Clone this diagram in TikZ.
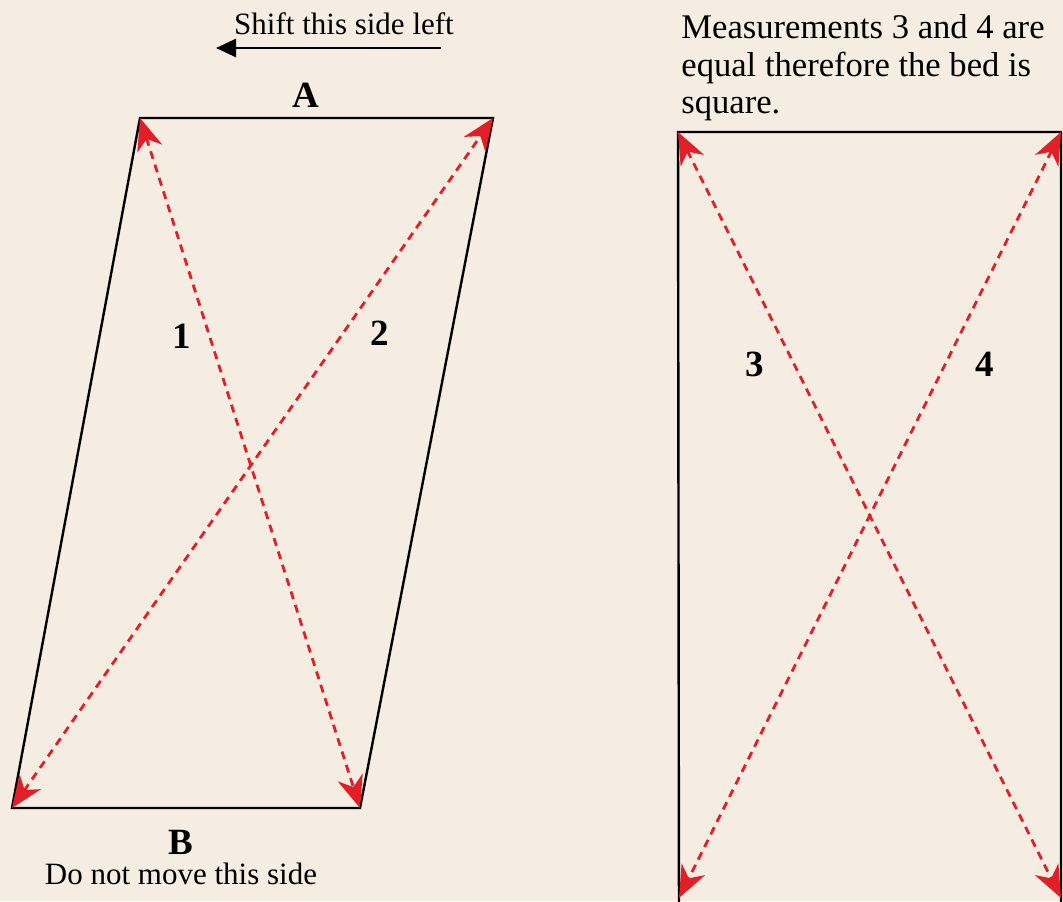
\documentclass[tikz,border=0pt]{standalone}
\usepackage{fontspec}
\setmainfont{Liberation Serif}
\usetikzlibrary{arrows.meta,positioning}
\definecolor{BedBg}{RGB}{245,237,225}
\definecolor{TapeRed}{RGB}{228,30,38}

\begin{document}
\begin{tikzpicture}[x=0.5pt,y=-0.5pt,node distance=2pt,
  frame/.style={draw=black,line width=1.2pt,line join=miter},
  tape/.style={draw=TapeRed,line width=1.4pt,dash pattern=on 4pt off 3pt,
    {Stealth[length=16pt,width=13pt,inset=5pt]}-{Stealth[length=16pt,width=13pt,inset=5pt]}},
  num/.style={inner sep=0pt,font=\fontsize{18.5}{21}\selectfont\bfseries},
  note/.style={inner sep=0pt,font=\fontsize{15.5}{19}\selectfont}]
  \fill[BedBg] (0,0) rectangle (1063,901);
  \useasboundingbox (0,0) rectangle (1063,901);
  \clip (0,0) rectangle (1063,901);
  % bed out of square
  \coordinate (a1) at (140,118);
  \coordinate (a2) at (493,118);
  \coordinate (b2) at (360,808);
  \coordinate (b1) at (12,808);
  \draw[frame] (a1) -- (a2) -- (b2) -- (b1) -- cycle;
  \draw[tape] (a1) -- (b2);
  \draw[tape] (b1) -- (a2);
  \node[num] (n1) at (182,336) {1};
  \node[num] (n2) at (380,333) {2};
  \node[num] (sideA) at (306,95) {A};
  \node[num] (sideB) at (181,842) {B};
  \node[note,below=4pt of sideB] (keep) {Do not move this side};
  \node[note] (shift) at (344,24) {Shift this side left};
  \coordinate (shiftfrom) at (441,48);
  \coordinate (shiftto) at (216,48);
  \draw[line width=1.3pt,-{Stealth[length=10pt,width=9pt,inset=0pt]}] (shiftfrom) -- (shiftto);
  % bed in square
  \coordinate (c1) at (678,132);
  \coordinate (c2) at (1061,132);
  \coordinate (d2) at (1061,898);
  \coordinate (d1) at (679,898);
  \draw[frame] (d1) ++(0,40) -- (c1) -- (c2) -- ++(0,820);
  \draw[tape] (c1) -- (d2);
  \draw[tape] (c2) -- (d1);
  \node[num] (n3) at (755,364) {3};
  \node[num] (n4) at (985,364) {4};
  \node[inner sep=0pt,anchor=north west,align=left,
    font=\fontsize{17.3}{18.8}\selectfont] (msg) at (681,14)
    {Measurements 3 and 4 are\\equal therefore the bed is\\square.};
\end{tikzpicture}
\end{document}
